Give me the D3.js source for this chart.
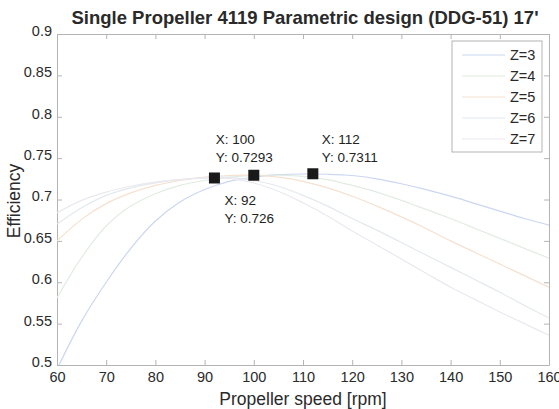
<!DOCTYPE html>
<html>
<head>
<meta charset="utf-8">
<script src="https://cdn.jsdelivr.net/npm/d3@7"></script>
<style>
  body { margin: 0; background: #fff; }
  text { font-family: 'Liberation Sans', Arial, sans-serif; }
</style>
</head>
<body>
<div id="chart"></div>
<script>
// data
const rpm = [60, 65, 70, 75, 80, 85, 90, 95, 100, 105, 110, 115, 120, 125, 130, 135, 140, 145, 150, 155, 160];
const seriesNames = ['Z=3', 'Z=4', 'Z=5', 'Z=6', 'Z=7'];
const effZ3 = [0.495, 0.553, 0.600, 0.641, 0.674, 0.697, 0.712, 0.722, 0.727, 0.730, 0.7308, 0.7305, 0.729, 0.725, 0.719, 0.712, 0.704, 0.695, 0.686, 0.677, 0.669];
const effZ4 = [0.581, 0.630, 0.668, 0.692, 0.707, 0.717, 0.723, 0.727, 0.729, 0.7295, 0.728, 0.724, 0.717, 0.709, 0.699, 0.688, 0.677, 0.665, 0.653, 0.641, 0.629];
const effZ5 = [0.650, 0.676, 0.695, 0.708, 0.717, 0.723, 0.727, 0.729, 0.7293, 0.727, 0.722, 0.714, 0.704, 0.692, 0.679, 0.665, 0.650, 0.636, 0.622, 0.608, 0.594];
const effZ6 = [0.670, 0.690, 0.705, 0.714, 0.720, 0.724, 0.7265, 0.7268, 0.723, 0.716, 0.705, 0.692, 0.677, 0.663, 0.648, 0.633, 0.618, 0.603, 0.588, 0.572, 0.557];
const effZ7 = [0.684, 0.699, 0.709, 0.716, 0.721, 0.724, 0.7258, 0.7255, 0.720, 0.710, 0.696, 0.680, 0.662, 0.645, 0.628, 0.611, 0.594, 0.579, 0.564, 0.550, 0.536];
const seriesColors = ['#cbd6f0', '#e2ece2', '#f5e1cf', '#e3e9ed', '#ebe8ef'];

// data tips
const tipX = [100, 92, 112];
const tipY = [0.7293, 0.726, 0.7311];
const tipDx = [-38, 10, 9];
const tipDy = [-31, 27, -30];

const xTicks = d3.range(60, 161, 10);
const yTicks = [0.5, 0.55, 0.6, 0.65, 0.7, 0.75, 0.8, 0.85, 0.9];

const W = 559, H = 409;
const margin = { top: 34, right: 10, bottom: 44, left: 57 };

const svg = d3.select('#chart').append('svg')
  .attr('width', W).attr('height', H);

const x = d3.scaleLinear().domain([60, 160]).range([margin.left, W - margin.right]);
const y = d3.scaleLinear().domain([0.5, 0.9]).range([H - margin.bottom, margin.top]);

const axisColor = '#b4b4b4';
const labelColor = '#2a2a2a';

svg.append('clipPath').attr('id', 'clip')
  .append('rect')
  .attr('x', x(60)).attr('y', y(0.9))
  .attr('width', x(160) - x(60)).attr('height', y(0.5) - y(0.9));

// axes with inward ticks, box style
const gx = svg.append('g').attr('transform', 'translate(0,' + y(0.5) + ')')
  .call(d3.axisBottom(x).tickValues(xTicks).tickSizeInner(-5).tickSizeOuter(0).tickPadding(7));
const gxt = svg.append('g').attr('transform', 'translate(0,' + y(0.9) + ')')
  .call(d3.axisTop(x).tickValues(xTicks).tickSizeInner(-5).tickSizeOuter(0).tickFormat(''));
const gy = svg.append('g').attr('transform', 'translate(' + x(60) + ',0)')
  .call(d3.axisLeft(y).tickValues(yTicks).tickSizeInner(-5).tickSizeOuter(0).tickPadding(5).tickFormat(d3.format('')));
const gyr = svg.append('g').attr('transform', 'translate(' + x(160) + ',0)')
  .call(d3.axisRight(y).tickValues(yTicks).tickSizeInner(-5).tickSizeOuter(0).tickFormat(''));

[gx, gxt, gy, gyr].forEach(g => {
  g.select('.domain').attr('stroke', axisColor);
  g.selectAll('.tick line').attr('stroke', axisColor);
  g.selectAll('.tick text').attr('fill', labelColor).style('font-size', '14.5px')
    .style('font-family', "'Liberation Sans', Arial, sans-serif");
});
gy.selectAll('.tick text').attr('dy', '0.1em');

// curves
const allSeries = [effZ3, effZ4, effZ5, effZ6, effZ7];
const line = d3.line()
  .x((d, i) => x(rpm[i]))
  .y(d => y(d))
  .curve(d3.curveCatmullRom);

svg.append('g').attr('clip-path', 'url(#clip)')
  .selectAll('path')
  .data(allSeries)
  .join('path')
  .attr('d', line)
  .attr('fill', 'none')
  .attr('stroke', (d, i) => seriesColors[i])
  .attr('stroke-width', 1.2);

// data tip markers
tipX.forEach((tx, i) => {
  svg.append('rect')
    .attr('x', x(tx) - 5.5).attr('y', y(tipY[i]) - 5.5)
    .attr('width', 11).attr('height', 11)
    .attr('fill', '#1a1a1a');
  const t = svg.append('text')
    .attr('x', x(tx) + tipDx[i])
    .attr('y', y(tipY[i]) + tipDy[i])
    .attr('fill', '#222')
    .style('font-size', '13.5px');
  t.append('tspan').text('X: ' + tx);
  t.append('tspan').attr('x', x(tx) + tipDx[i]).attr('dy', 18).text('Y: ' + tipY[i]);
});

// legend
const lg = svg.append('g').attr('transform', 'translate(452,41)');
lg.append('rect')
  .attr('width', 90).attr('height', 111)
  .attr('fill', '#fff').attr('stroke', axisColor);
seriesNames.forEach((name, i) => {
  const ly = 14 + i * 21;
  lg.append('line')
    .attr('x1', 10).attr('x2', 53).attr('y1', ly).attr('y2', ly)
    .attr('stroke', seriesColors[i]).attr('stroke-width', 1.2);
  lg.append('text')
    .attr('x', 58).attr('y', ly + 5)
    .attr('fill', labelColor)
    .style('font-size', '14.5px')
    .text(name);
});

// title and axis labels
svg.append('text')
  .attr('x', 305).attr('y', 24)
  .attr('text-anchor', 'middle')
  .attr('fill', labelColor)
  .style('font-size', '18.5px').style('font-weight', 'bold')
  .text("Single Propeller 4119 Parametric design (DDG-51) 17'");

svg.append('text')
  .attr('x', 303).attr('y', 405)
  .attr('text-anchor', 'middle')
  .attr('fill', labelColor)
  .style('font-size', '17.5px')
  .text('Propeller speed [rpm]');

svg.append('text')
  .attr('transform', 'translate(20,201) rotate(-90)')
  .attr('text-anchor', 'middle')
  .attr('fill', labelColor)
  .style('font-size', '17.5px')
  .text('Efficiency');
</script>
</body>
</html>
